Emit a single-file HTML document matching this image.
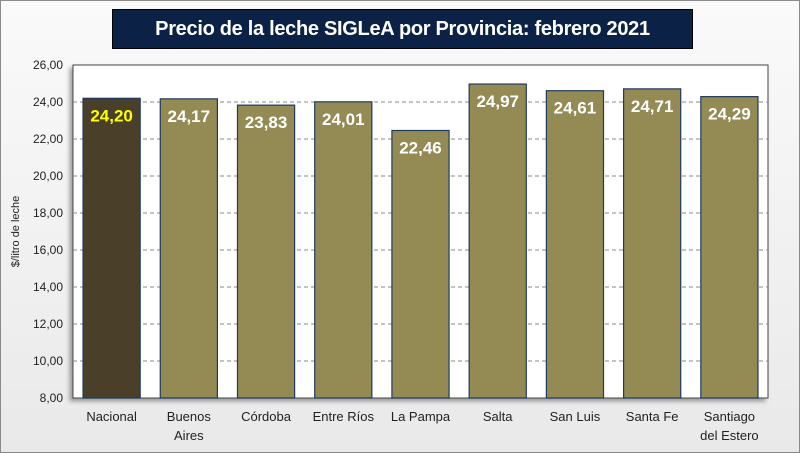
<!DOCTYPE html>
<html><head><meta charset="utf-8"><style>
body{margin:0;width:800px;height:453px;overflow:hidden;font-family:"Liberation Sans",sans-serif}
#wrap{position:absolute;left:0;top:0;width:798px;height:451px;border:1px solid #8a8a8a;background:linear-gradient(#fafafa,#e9e9e9)}
#title{position:absolute;left:111px;top:8px;width:579px;height:38px;background:#0c2146;color:#fff;font-size:20px;font-weight:bold;text-align:center;line-height:38px;border:1px solid #000;white-space:nowrap;letter-spacing:-0.3px}
</style></head><body>
<div id="wrap">
<div id="title">Precio de la leche SIGLeA por Provincia: febrero 2021</div>
<svg width="800" height="453" style="position:absolute;left:0;top:0" id="svg">
<defs><filter id="sh"><feDropShadow dx="-3" dy="3" stdDeviation="2" flood-opacity="0.35"/></filter></defs>
<rect x="72" y="64" width="695" height="333" fill="#fff" stroke="#444" filter="url(#sh)"/>
<g id="g"></g>
</svg>
</div>
<script>
const categories=[["Nacional"],["Buenos","Aires"],["Córdoba"],["Entre Ríos"],["La Pampa"],["Salta"],["San Luis"],["Santa Fe"],["Santiago","del Estero"]];
const values=[24.20,24.17,23.83,24.01,22.46,24.97,24.61,24.71,24.29];
const labels=["24,20","24,17","23,83","24,01","22,46","24,97","24,61","24,71","24,29"];
const ticks=[8,10,12,14,16,18,20,22,24,26];
const L=72,R=767,T=64,B=397,ymin=8,ymax=26;
const y=v=>B-(v-ymin)/(ymax-ymin)*(B-T);
const cw=(R-L)/categories.length;
const x=i=>L+cw*(i+0.5);
const g=document.getElementById('g');const NS='http://www.w3.org/2000/svg';
function mk(t,a,txt){const e=document.createElementNS(NS,t);for(const k in a)e.setAttribute(k,a[k]);if(txt!=null)e.textContent=txt;g.appendChild(e);return e;}
ticks.forEach(t=>{
 if(t>ymin&&t<ymax){const l=mk('line',{x1:L,x2:R,y1:y(t),y2:y(t),stroke:'#888','stroke-dasharray':'4,3'});
 
 }
 const tx=mk('text',{x:L-10,y:y(t)+4,'text-anchor':'end','font-size':'12',fill:'#222'},t.toFixed(2).replace('.',','));
 
 
});
values.forEach((v,i)=>{
 const bw=cw*0.74;
 const r=mk('rect',{x:x(i)-bw/2,y:y(v),width:bw,height:B-y(v),fill:i==0?'#4a402a':'#948a54',stroke:'#1f3a5f','stroke-width':1.2});
 
 
 const t=mk('text',{x:x(i),y:y(v)+23,'text-anchor':'middle','font-size':'17','font-weight':'bold',fill:i==0?'#ffff00':'#fff'},labels[i]);
 
 
 categories[i].forEach((s,j)=>{const c=mk('text',{x:x(i),y:B+23+j*19,'text-anchor':'middle','font-size':'13',fill:'#222'},s);
 
 });
});
const yt=mk('text',{x:0,y:0,transform:'translate(18,'+((T+B)/2)+') rotate(-90)','text-anchor':'middle','font-size':'11',fill:'#222'},'$/litro de leche');


</script>
</body></html>
